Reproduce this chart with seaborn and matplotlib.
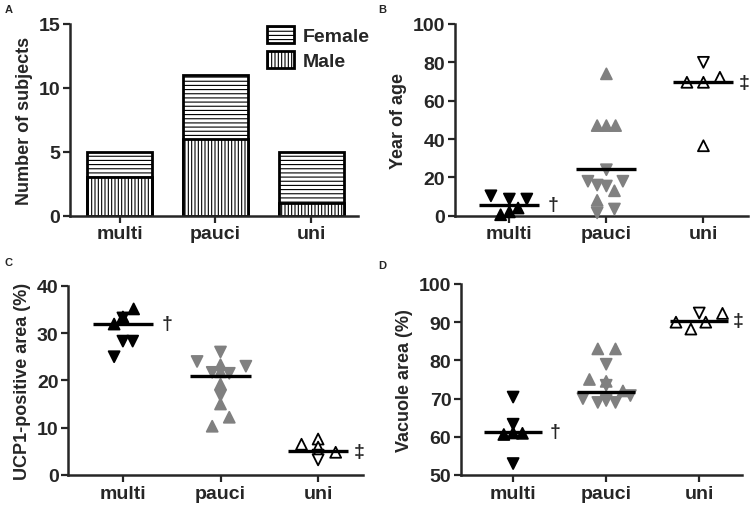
import matplotlib
matplotlib.use("Agg")
import matplotlib.pyplot as plt
import matplotlib.patches as mpatches
import seaborn as sns
import pandas as pd

# ---------------- data ----------------
groups = ["multi", "pauci", "uni"]
male_counts = [3, 6, 1]
female_counts = [2, 5, 4]

# Panel B: Year of age
b_multi_val = [10.4, 8.7, 8.7, 0.5, 2.0, 4.0]
b_multi_off = [-0.19, 0.0, 0.18, -0.09, 0.0, 0.09]
b_multi_dir = ["v", "v", "v", "^", "^", "^"]
b_pauci_val = [74, 47, 47, 47, 24, 18, 16, 15.5, 18, 13, 8, 1.5, 3.5]
b_pauci_off = [0.0, -0.095, 0.0, 0.095, 0.0, -0.19, -0.095, 0.0, 0.17, 0.083, -0.095, -0.095, 0.083]
b_pauci_dir = ["^", "^", "^", "^", "v", "v", "v", "v", "v", "^", "^", "v", "v"]
b_uni_val = [80, 69.6, 69.6, 72.2, 36.5]
b_uni_off = [0.0, -0.17, 0.0, 0.17, 0.0]
b_uni_dir = ["v", "^", "^", "^", "^"]
b_median = [5.7, 24.3, 69.6]

# Panel C: UCP1-positive area (%)
c_multi_val = [35.1, 33.4, 33.2, 31.9, 28.3, 28.3, 25.0]
c_multi_off = [0.11, 0.0, 0.0, -0.09, 0.0, 0.1, -0.09]
c_multi_dir = ["^", "^", "v", "^", "v", "v", "v"]
c_pauci_val = [26.0, 24.0, 23.0, 23.3, 21.7, 21.5, 21.8, 19.2, 16.8, 15.0, 12.2, 10.3]
c_pauci_off = [0.0, -0.24, 0.26, 0.0, -0.085, 0.09, 0.0, 0.0, 0.0, 0.0, 0.09, -0.085]
c_pauci_dir = ["v", "v", "v", "^", "v", "v", "^", "^", "v", "^", "^", "^"]
c_uni_val = [6.5, 7.6, 5.9, 4.2, 3.2, 4.8]
c_uni_off = [-0.17, 0.0, 0.0, 0.0, 0.0, 0.18]
c_uni_dir = ["^", "^", "^", "v", "v", "^"]
c_median = [32.0, 21.0, 5.0]

# Panel D: Vacuole area (%)
d_multi_val = [70.4, 63.3, 60.6, 61.0, 60.9, 53.0]
d_multi_off = [0.0, 0.0, -0.1, 0.0, 0.1, 0.0]
d_multi_dir = ["v", "v", "^", "^", "^", "v"]
d_pauci_val = [83, 83, 79, 75, 74.5, 73.5, 70, 69, 69.5, 69, 72, 70.8]
d_pauci_off = [-0.09, 0.1, 0.0, -0.18, 0.0, 0.0, -0.25, -0.09, 0.0, 0.1, 0.18, 0.26]
d_pauci_dir = ["^", "^", "v", "^", "^", "v", "v", "v", "v", "v", "^", "v"]
d_uni_val = [90.0, 88.2, 92.4, 90.0, 92.3]
d_uni_off = [-0.25, -0.09, 0.0, 0.07, 0.25]
d_uni_dir = ["^", "^", "v", "^", "^"]
d_median = [61.3, 71.8, 90.4]

# ---------------- style ----------------
sns.set_style("ticks")
plt.rcParams["font.family"] = ["Liberation Sans", "DejaVu Sans"]
plt.rcParams["font.weight"] = "bold"
plt.rcParams["axes.labelweight"] = "bold"
plt.rcParams["hatch.linewidth"] = 0.8
plt.rcParams["hatch.color"] = "black"

FS = 14      # tick labels / legend
LFS = 13     # axis labels
fig = plt.figure(figsize=(7.5, 5.06), dpi=100)
axA = fig.add_axes([0.0933, 0.5717, 0.384, 0.3789])
axB = fig.add_axes([0.6067, 0.5717, 0.3907, 0.3789])
axC = fig.add_axes([0.091, 0.0593, 0.393, 0.374])
axD = fig.add_axes([0.6147, 0.0593, 0.3747, 0.3775])


def style_axis(ax):
    sns.despine(ax=ax)
    for s in ("left", "bottom"):
        ax.spines[s].set_linewidth(1.8)
    ax.tick_params(axis="both", width=1.6, length=5, labelsize=FS, direction="out", pad=2)
    for lab in ax.get_xticklabels() + ax.get_yticklabels():
        lab.set_fontweight("bold")


# ---------------- Panel A ----------------
totals = [m + f for m, f in zip(male_counts, female_counts)]
dfA = pd.DataFrame({"group": groups, "total": totals, "male": male_counts})
sns.barplot(data=dfA, x="group", y="total", ax=axA, color="white", edgecolor="black",
            linewidth=2, width=0.68, hatch="----", saturation=1)
sns.barplot(data=dfA, x="group", y="male", ax=axA, color="white", edgecolor="black",
            linewidth=2, width=0.68, hatch="|||||", saturation=1)
axA.set_ylim(0, 15)
axA.set_yticks([0, 5, 10, 15])
axA.set_xlim(-0.52, 2.49)
axA.set_xlabel("")
axA.set_ylabel("Number of subjects", fontsize=LFS, fontweight="bold", labelpad=4)
handles = [mpatches.Patch(facecolor="white", edgecolor="black", linewidth=2, hatch="----", label="Female"),
           mpatches.Patch(facecolor="white", edgecolor="black", linewidth=2, hatch="|||||", label="Male")]
axA.legend(handles=handles, loc="upper left", bbox_to_anchor=(0.685, 0.99), frameon=False,
           prop={"size": FS, "weight": "bold"}, handlelength=1.35, handleheight=0.95,
           handletextpad=0.5, labelspacing=0.3, borderpad=0, borderaxespad=0)
style_axis(axA)


# ---------------- scatter panels ----------------
def scatter_panel(ax, vals, offs, dirs, medians, ylim, yticks, ylabel):
    colors = [("black", "black"), ("#808080", "#808080"), ("white", "black")]
    for i, g in enumerate(groups):
        df = pd.DataFrame({"x": [i + o for o in offs[i]], "y": vals[i], "d": dirs[i]})
        fc, ec = colors[i]
        sns.scatterplot(data=df, x="x", y="y", style="d", markers={"^": "^", "v": "v"},
                        color=fc, edgecolor=ec, linewidth=1.3, s=62, ax=ax, legend=False,
                        zorder=3, clip_on=False)
        ax.hlines(medians[i], i - 0.31, i + 0.31, color="black", lw=2.4, zorder=4)
    ax.text(0.45, medians[0], "\u2020", ha="center", va="center", fontsize=FS,
            fontweight="bold", clip_on=False)
    ax.text(2.42, medians[2], "\u2021", ha="center", va="center", fontsize=FS,
            fontweight="bold", clip_on=False)
    ax.set_ylim(*ylim)
    ax.set_yticks(yticks)
    ax.set_xticks([0, 1, 2])
    ax.set_xticklabels(groups)
    ax.set_xlim(-0.56, 2.46)
    ax.set_xlabel("")
    ax.set_ylabel(ylabel, fontsize=LFS, fontweight="bold", labelpad=4)
    style_axis(ax)


scatter_panel(axB, [b_multi_val, b_pauci_val, b_uni_val],
              [b_multi_off, b_pauci_off, b_uni_off],
              [b_multi_dir, b_pauci_dir, b_uni_dir],
              b_median, (0, 100), [0, 20, 40, 60, 80, 100], "Year of age")
scatter_panel(axC, [c_multi_val, c_pauci_val, c_uni_val],
              [c_multi_off, c_pauci_off, c_uni_off],
              [c_multi_dir, c_pauci_dir, c_uni_dir],
              c_median, (0, 40), [0, 10, 20, 30, 40], "UCP1-positive area (%)")
scatter_panel(axD, [d_multi_val, d_pauci_val, d_uni_val],
              [d_multi_off, d_pauci_off, d_uni_off],
              [d_multi_dir, d_pauci_dir, d_uni_dir],
              d_median, (50, 100), [50, 60, 70, 80, 90, 100], "Vacuole area (%)")

# panel letters
for lbl, x, y in [("A", 0.006, 0.99), ("B", 0.504, 0.99), ("C", 0.006, 0.49), ("D", 0.504, 0.485)]:
    fig.text(x, y, lbl, fontsize=8, fontweight="bold", ha="left", va="top")

fig.savefig("out.png", dpi=100)
